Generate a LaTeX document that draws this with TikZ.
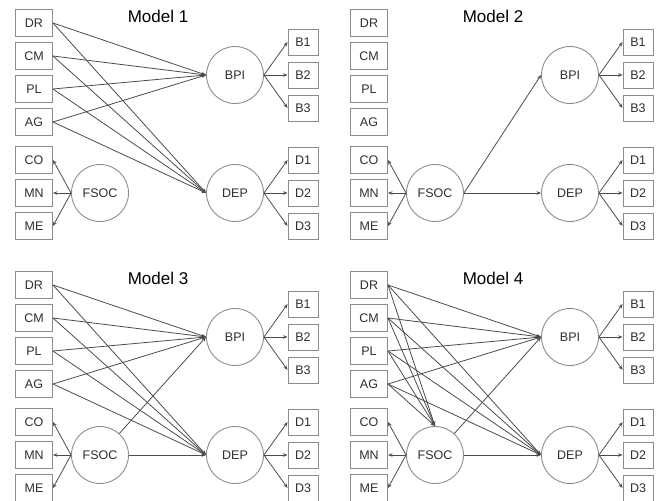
\documentclass[tikz,border=0pt]{standalone}
\usepackage{fontspec}
\setmainfont{Liberation Sans}
\usetikzlibrary{arrows.meta}
\definecolor{boxc}{HTML}{8C8C8C}
\definecolor{linec}{HTML}{4C4C4C}
\definecolor{txtc}{HTML}{2E2E2E}
\tikzset{
  box/.style={draw=boxc, line width=0.9pt, minimum width=37pt, minimum height=27pt, inner sep=0pt, font=\fontsize{12.5}{12.5}\selectfont, text=txtc},
  rbox/.style={box, minimum width=30pt, minimum height=26pt},
  lat/.style={draw=boxc, circle, line width=0.9pt, minimum size=57pt, inner sep=0pt, font=\fontsize{12.5}{12.5}\selectfont, text=txtc},
  fs/.style={lat},
  arr/.style={draw=linec, line width=0.8pt, -{Stealth[length=4.5pt,width=3.5pt]}},
  ttl/.style={font=\fontsize{17}{17}\selectfont, text=black}
}
\newcommand\drawpanel[1]{%
  \node[ttl] (T) at (158,16) {#1};
  \node[box] (DR) at (34,23) {DR};
  \node[box] (CM) at (34,56) {CM};
  \node[box] (PL) at (34,89) {PL};
  \node[box] (AG) at (34,122) {AG};
  \node[box] (CO) at (34,160) {CO};
  \node[box] (MN) at (34,193) {MN};
  \node[box] (ME) at (34,226) {ME};
  \node[fs] (FSOC) at (100,193) {FSOC};
  \node[lat] (BPI) at (235,75) {BPI};
  \node[lat] (DEP) at (235,193) {DEP};
  \node[rbox] (B1) at (303,42) {B1};
  \node[rbox] (B2) at (303,75) {B2};
  \node[rbox] (B3) at (303,108) {B3};
  \node[rbox] (D1) at (303,160) {D1};
  \node[rbox] (D2) at (303,193) {D2};
  \node[rbox] (D3) at (303,226) {D3};
  \foreach \o in {CO,MN,ME} {\draw[arr] (FSOC.west) -- (\o.east);}
  \foreach \o in {B1,B2,B3} {\draw[arr] (BPI.east) -- (\o.west);}
  \foreach \o in {D1,D2,D3} {\draw[arr] (DEP.east) -- (\o.west);}
}
\begin{document}
\begin{tikzpicture}[x=1pt,y=-1pt]
\useasboundingbox (0,0) rectangle (663,500);
% Model 1
\begin{scope}[name prefix=m1-]
  \drawpanel{Model 1}
  \foreach \s in {DR,CM,PL,AG} {
    \draw[arr] (\s.east) -- (BPI.west);
    \draw[arr] (\s.east) -- (DEP.west);
  }
\end{scope}
% Model 2
\begin{scope}[shift={(335,0)}, name prefix=m2-]
  \drawpanel{Model 2}
  \draw[arr] (FSOC.east) -- (BPI.west);
  \draw[arr] (FSOC.east) -- (DEP.west);
\end{scope}
% Model 3
\begin{scope}[shift={(0,262)}, name prefix=m3-]
  \drawpanel{Model 3}
  \foreach \s in {DR,CM,PL,AG} {
    \draw[arr] (\s.east) -- (BPI.west);
    \draw[arr] (\s.east) -- (DEP.west);
  }
  \draw[arr] (FSOC) -- (BPI.west);
  \draw[arr] (FSOC.east) -- (DEP.west);
\end{scope}
% Model 4
\begin{scope}[shift={(335,262)}, name prefix=m4-]
  \drawpanel{Model 4}
  \foreach \s in {DR,CM,PL,AG} {
    \draw[arr] (\s.east) -- (BPI.west);
    \draw[arr] (\s.east) -- (DEP.west);
    \draw[arr] (\s.east) -- (FSOC.north);
  }
  \draw[arr] (FSOC) -- (BPI.west);
  \draw[arr] (FSOC.east) -- (DEP.west);
\end{scope}
\end{tikzpicture}
\end{document}
